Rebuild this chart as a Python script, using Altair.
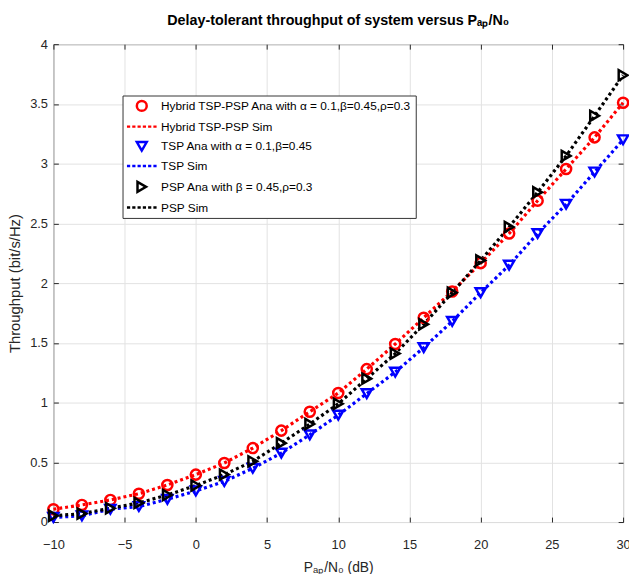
import altair as alt
import pandas as pd

# ---- data ----
x_db = [-10, -8, -6, -4, -2, 0, 2, 4, 6, 8, 10, 12, 14, 16, 18, 20, 22, 24, 26, 28, 30]
hybrid = [0.107, 0.143, 0.185, 0.237, 0.31, 0.397, 0.494, 0.619, 0.765, 0.923, 1.08,
          1.28, 1.49, 1.71, 1.93, 2.167, 2.415, 2.69, 2.955, 3.22, 3.51]
tsp = [0.038, 0.052, 0.107, 0.13, 0.19, 0.26, 0.34, 0.45, 0.577, 0.73, 0.895,
       1.075, 1.255, 1.46, 1.68, 1.92, 2.15, 2.415, 2.66, 2.93, 3.20]
psp = [0.052, 0.07, 0.115, 0.16, 0.226, 0.306, 0.397, 0.508, 0.66, 0.82, 0.99,
       1.20, 1.41, 1.655, 1.92, 2.19, 2.47, 2.76, 3.065, 3.40, 3.74]

ana_labels = ["Hybrid TSP-PSP Ana with α = 0.1,β=0.45,ρ=0.3",
              "TSP Ana with α = 0.1,β=0.45",
              "PSP Ana with β = 0.45,ρ=0.3"]
sim_labels = ["Hybrid TSP-PSP Sim", "TSP Sim", "PSP Sim"]
series_colors = ["#ff0000", "#0000ff", "#000000"]
marker_shapes = ["circle", "triangle-down", "triangle-right"]

x_ticks = [-10, -5, 0, 5, 10, 15, 20, 25, 30]
y_ticks = [0, 0.5, 1, 1.5, 2, 2.5, 3, 3.5, 4]

# dotted line glyph for legend entries
DOT = ("M-3,0L-2.35,0M-1.93,0L-1.28,0M-0.86,0L-0.21,0"
       "M0.21,0L0.86,0M1.28,0L1.93,0M2.35,0L3,0")

ana_rows, sim_rows = [], []
for ana, sim, vals in zip(ana_labels, sim_labels, [hybrid, tsp, psp]):
    for x, y in zip(x_db, vals):
        ana_rows.append({"x": x, "y": y, "label": ana})
        sim_rows.append({"x": x, "y": y, "label": sim})
df_ana = pd.DataFrame(ana_rows)
df_sim = pd.DataFrame(sim_rows)

domain = []
c_range = []
s_range = []
for ana, sim, col, shp in zip(ana_labels, sim_labels, series_colors, marker_shapes):
    domain += [ana, sim]
    c_range += [col, col]
    s_range += [shp, DOT]

FONT = "Liberation Sans"
TXT = "#262626"
GRID = "#e2e2e2"

legend = alt.Legend(title=None, orient="none", legendX=70, legendY=52,
                    fillColor="white", strokeColor="#333333", padding=4,
                    symbolOffset=9, symbolStrokeWidth=2.5, symbolSize=100,
                    symbolFillColor="transparent",
                    labelFontSize=12, labelFont=FONT, labelColor="black",
                    labelLimit=0, rowPadding=4, labelOffset=13)

color = alt.Color("label:N", scale=alt.Scale(domain=domain, range=c_range), legend=legend)
shape = alt.Shape("label:N", scale=alt.Scale(domain=domain, range=s_range), legend=legend)

x_scale = alt.Scale(domain=[-10, 30], nice=False, zero=False)
y_scale = alt.Scale(domain=[0, 4], nice=False)

x_enc = alt.X("x:Q", scale=x_scale,
              axis=alt.Axis(values=x_ticks, title="Pₐₚ/N₀ (dB)", labelFlush=False,
                            domain=False, tickSize=5, tickColor=TXT, offset=-5,
                            labelPadding=17, labelFontSize=13, labelColor=TXT, labelFont=FONT,
                            titleFontSize=14, titleColor=TXT, titleFont=FONT,
                            titleFontWeight="normal", titlePadding=9,
                            gridColor=GRID))
y_enc = alt.Y("y:Q", scale=y_scale,
              axis=alt.Axis(values=y_ticks, title="Throughput (bit/s/Hz)", format="~g",
                            labelFlush=False, domain=False, tickSize=5, tickColor=TXT,
                            offset=-5, labelPadding=6, labelFontSize=13, labelColor=TXT,
                            labelFont=FONT, titleFontSize=15, titleColor=TXT, titleFont=FONT,
                            titleFontWeight="normal", titlePadding=7, gridColor=GRID))

lines = alt.Chart(df_sim).mark_line(strokeWidth=3.2, strokeDash=[3, 3]).encode(
    x=x_enc, y=y_enc, color=color, detail="label:N")
points = alt.Chart(df_ana).mark_point(filled=False, strokeWidth=2.5, size=105, opacity=1).encode(
    x=alt.X("x:Q", scale=x_scale, axis=None),
    y=alt.Y("y:Q", scale=y_scale, axis=None),
    color=color, shape=shape)

# mirrored inward ticks on the top and right edges of the box
box_ticks = alt.Chart(df_ana).mark_point(opacity=0).encode(
    x=alt.X("x:Q", scale=x_scale,
            axis=alt.Axis(values=x_ticks, orient="top", labels=False, title=None, grid=False,
                          domain=False, tickSize=5, tickColor=TXT, offset=-5)),
    y=alt.Y("y:Q", scale=y_scale,
            axis=alt.Axis(values=y_ticks, orient="right", labels=False, title=None, grid=False,
                          domain=False, tickSize=5, tickColor=TXT, offset=-5)),
)

chart = alt.layer(lines, points, box_ticks).resolve_axis(
    x="independent", y="independent"
).properties(
    width=577, height=484,
    autosize=alt.AutoSizeParams(type="none"),
    padding={"left": 46, "top": 33, "right": 6, "bottom": 49},
    title=alt.TitleParams("Delay-tolerant throughput of system versus Pₐₚ/N₀",
                          font=FONT, fontSize=14.5, fontWeight="bold", color="black",
                          anchor="middle", offset=10),
    background="white",
).configure_view(stroke="#555555", strokeWidth=1)

chart.save("out.html", embed_options={"renderer": "svg", "actions": False})
